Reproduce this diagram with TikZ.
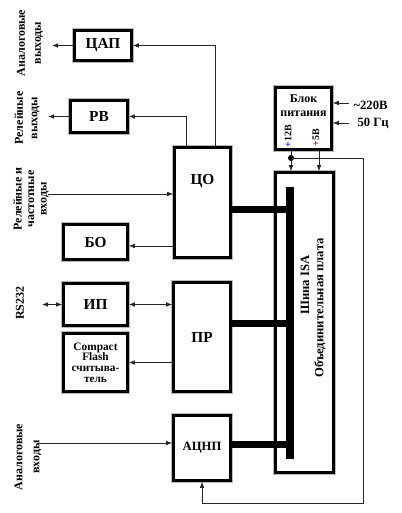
\documentclass[tikz,border=0pt]{standalone}
\usepackage{fontspec}
\setmainfont{Liberation Serif}
\usetikzlibrary{arrows.meta}

\tikzset{every picture/.style={line width=0.75pt}}
\tikzset{
  blk/.style={draw=black, line width=2pt, fill=white, preaction={draw=gray!55, line width=4pt}, inner sep=1pt, align=center, font=\fontsize{11.5}{13}\selectfont\bfseries},
  arr/.style={-{Latex[length=4.5pt,width=3.5pt]}, line width=0.6pt, draw=black!85},
  dblarr/.style={{Latex[length=4.5pt,width=3.5pt]}-{Latex[length=4.5pt,width=3.5pt]}, line width=0.6pt, draw=black!85},
  busbar/.style={line width=6pt},
  side/.style={rotate=90, align=center, inner sep=0pt, font=\fontsize{9}{12}\selectfont\bfseries},
}

\begin{document}
\begin{tikzpicture}[x=0.75pt,y=0.75pt,yscale=-1,xscale=1]
\useasboundingbox (0,0) rectangle (401,513);

% blocks
\node [blk, minimum width=42.75pt, minimum height=22.5pt] (dac) at (103,45.5) {ЦАП};
\node [blk, minimum width=42.75pt, minimum height=24pt] (rv) at (99,116.5) {РВ};
\node [blk, minimum width=42pt, minimum height=82.5pt, label={[anchor=center,yshift=-26pt,font=\fontsize{11.5}{13}\selectfont\bfseries]north:ЦО}] (co) at (202.5,202.5) {};
\node [blk, minimum width=48pt, minimum height=26.25pt] (bo) at (95.5,242) {БО};
\node [blk, minimum width=48pt, minimum height=31.5pt] (ip) at (95.5,304.5) {ИП};
\node [blk, minimum width=48pt, minimum height=43.5pt, font=\fontsize{8.5}{8}\selectfont\bfseries] (cf) at (95.5,362.5) {Compact\\Flash\\считыва-\\тель};
\node [blk, minimum width=42.75pt, minimum height=81.75pt] (pr) at (202,337) {ПР};
\node [blk, minimum width=42.75pt, minimum height=48.75pt, font=\fontsize{9.5}{11}\selectfont\bfseries] (adc) at (202,448) {АЦНП};
\node [blk, minimum width=43.5pt, minimum height=225pt] (bus) at (304.5,322.5) {};
\node [blk, minimum width=42pt, minimum height=46.5pt] (pw) at (303.5,118.5) {};

% texts
\node [align=center, font=\fontsize{9}{11}\selectfont\bfseries] (pwt) at (303.5,105.5) {Блок\\питания};
\node [rotate=90, inner sep=0pt, font=\fontsize{7.5}{8}\selectfont\bfseries] (l12) at (288,136) {\textcolor{blue}{+}12В};
\node [rotate=90, inner sep=0pt, font=\fontsize{7.5}{8}\selectfont\bfseries] (l5) at (316,138) {\textcolor{violet}{+}5В};
\node [anchor=west, inner sep=0pt, font=\fontsize{9.5}{11}\selectfont\bfseries] (v220) at (353,105) {\textasciitilde220В};
\node [anchor=west, inner sep=0pt, font=\fontsize{9.5}{11}\selectfont\bfseries] (hz) at (357,123) {50 Гц};
\node [rotate=90, inner sep=0pt, font=\fontsize{9.5}{11}\selectfont\bfseries] (isa) at (305,285) {Шина ISA};
\node [rotate=90, inner sep=0pt, font=\fontsize{9.5}{11}\selectfont\bfseries] (obp) at (320,308) {Объединительная плата};

\node [side, font=\fontsize{9}{12}\selectfont\bfseries] (lao) at (30,43) {Аналоговые\\выходы};
\node [side, font=\fontsize{9}{11}\selectfont\bfseries] (lro) at (27,118) {Релейные\\выходы};
\node [side, font=\fontsize{9}{9.4}\selectfont\bfseries] (lri) at (31,199) {Релейные и\\частотные\\входы};
\node [side] (lrs) at (20,303) {RS232};
\node [side, font=\fontsize{9}{12.75}\selectfont\bfseries] (lai) at (28,457) {Аналоговые\\входы};

% free ends and joints
\coordinate (dacout) at (52,45.5);
\coordinate (rvout) at (48,116.5);
\coordinate (rin) at (48,194);
\coordinate (boin) at (0,246);
\coordinate (rsl) at (42,304.5);
\coordinate (ain) at (38,443);
\coordinate (a220) at (349,103);
\coordinate (a50) at (349,123);
\coordinate (btop) at (290,187);
\coordinate (bbot) at (290,459);
\coordinate (jco) at (290,209.5);
\coordinate (jpr) at (290,323.5);
\coordinate (jadc) at (290,444);
\coordinate (p12) at (291,158);
\coordinate (p5) at (319,158);
\coordinate (rtr) at (363,158);
\coordinate (rbr) at (363,503);

% bus
\draw [busbar] (btop) -- (bbot);
\draw [busbar, line width=5.25pt] (co.east |- jco) -- (jco);
\draw [busbar, line width=5.25pt] (pr.east |- jpr) -- (jpr);
\draw [busbar, line width=5.25pt] (adc.east |- jadc) -- (jadc);

% connectors
\draw [arr] ([xshift=9.4pt]co.north) |- (dac.east);
\draw [arr] ([xshift=-12.4pt]co.north) |- (rv.east);
\draw [arr] (dac.west) -- (dacout);
\draw [arr] (rv.west) -- (rvout);
\draw [arr] (rin) -- (rin -| co.west);
\draw [arr] (co.west |- boin) -- (bo.east |- boin);
\draw [dblarr] (rsl) -- (ip.west);
\draw [dblarr] (ip.east) -- (ip.east -| pr.west);
\draw [arr] (cf.east -| pr.west) -- (cf.east);
\draw [arr] (ain) -- (ain -| adc.west);

% power
\draw [arr] (a220) -- (a220 -| pw.east);
\draw [arr] (a50) -- (a50 -| pw.east);
\draw [arr] (pw.south -| p12) -- (bus.north -| p12);
\draw [arr] (pw.south -| p5) -- (bus.north -| p5);
\fill (p12) circle [radius=3];
\draw [arr] (p12) -- (rtr) -- (rbr) -| (adc.south);

\end{tikzpicture}
\end{document}
